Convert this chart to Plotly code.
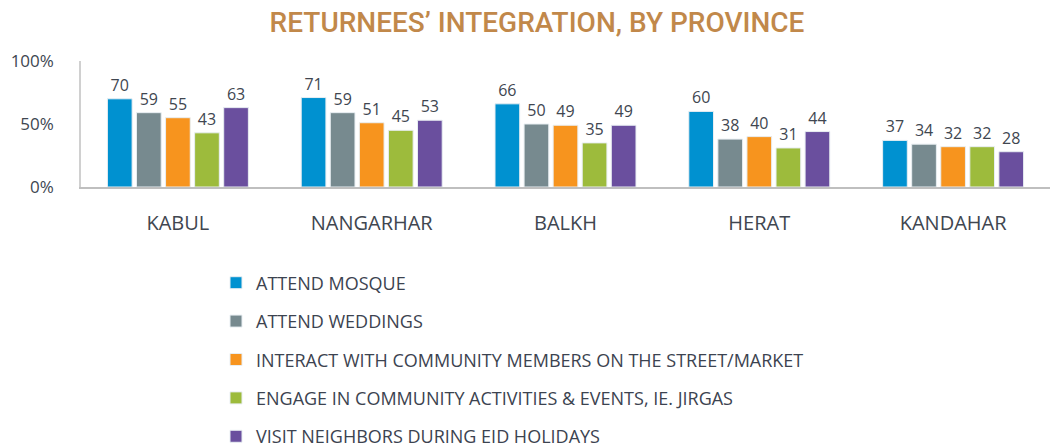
import plotly.graph_objects as go

provinces = ["KABUL", "NANGARHAR", "BALKH", "HERAT", "KANDAHAR"]
series_names = [
    "ATTEND MOSQUE",
    "ATTEND WEDDINGS",
    "INTERACT WITH COMMUNITY MEMBERS ON THE STREET/MARKET",
    "ENGAGE IN COMMUNITY ACTIVITIES & EVENTS, IE. JIRGAS",
    "VISIT NEIGHBORS DURING EID HOLIDAYS",
]
attend_mosque = [70, 71, 66, 60, 37]
attend_weddings = [59, 59, 50, 38, 34]
interact_street = [55, 51, 49, 40, 32]
community_events = [43, 45, 35, 31, 32]
visit_neighbors = [63, 53, 49, 44, 28]
y_ticks = [0, 50, 100]
y_tick_labels = ["0%", "50%", "100%"]
colors = ["#0091D0", "#778A8F", "#F7941E", "#9DBB3C", "#6A4F9E"]

series_values = [attend_mosque, attend_weddings, interact_street,
                 community_events, visit_neighbors]

label_font = "Open Sans, sans-serif"

fig = go.Figure()
for i, (name, vals, col) in enumerate(zip(series_names, series_values, colors)):
    fig.add_trace(go.Bar(
        x=provinces, y=vals, name=name,
        marker=dict(color=col, line=dict(color="#E8EEF2", width=1)),
        text=[str(v) for v in vals], textposition="outside",
        textfont=dict(family=label_font, size=16, color="#404650"),
        cliponaxis=False,
        legendgroup=f"g{i}",
    ))

fig.update_layout(
    width=1053, height=447,
    paper_bgcolor="white", plot_bgcolor="white",
    margin=dict(l=81, r=3, t=61, b=260, autoexpand=False),
    barmode="group", bargap=0.25, bargroupgap=0.15,
    title=dict(
        text="RETURNEES’ INTEGRATION, BY PROVINCE",
        x=0.51, xanchor="center", y=0.95, yanchor="middle",
        font=dict(family="Roboto, sans-serif", size=28, weight=500, color="#C1884A"),
    ),
    font=dict(family=label_font, color="#404650"),
    showlegend=True,
    legend=dict(
        orientation="v", x=(216 - 81) / 969, xanchor="left",
        y=-0.615, yanchor="top",
        font=dict(size=18, color="#3C4350"),
        tracegroupgap=12, traceorder="grouped",
        itemwidth=30,
    ),
    xaxis=dict(
        showline=True, linecolor="#BFBFBF", linewidth=2,
        ticks="outside", ticklen=17, tickcolor="white",
        tickfont=dict(size=20, color="#404650"),
        showgrid=False,
    ),
    yaxis=dict(
        range=[0, 100], tickmode="array", tickvals=y_ticks, ticktext=y_tick_labels,
        showline=True, linecolor="#D0D0D0", linewidth=1.5,
        ticks="outside", ticklen=22, tickcolor="white",
        tickfont=dict(size=17, color="#404650"),
        showgrid=False, zeroline=False,
    ),
)

fig.write_html("out.html")
